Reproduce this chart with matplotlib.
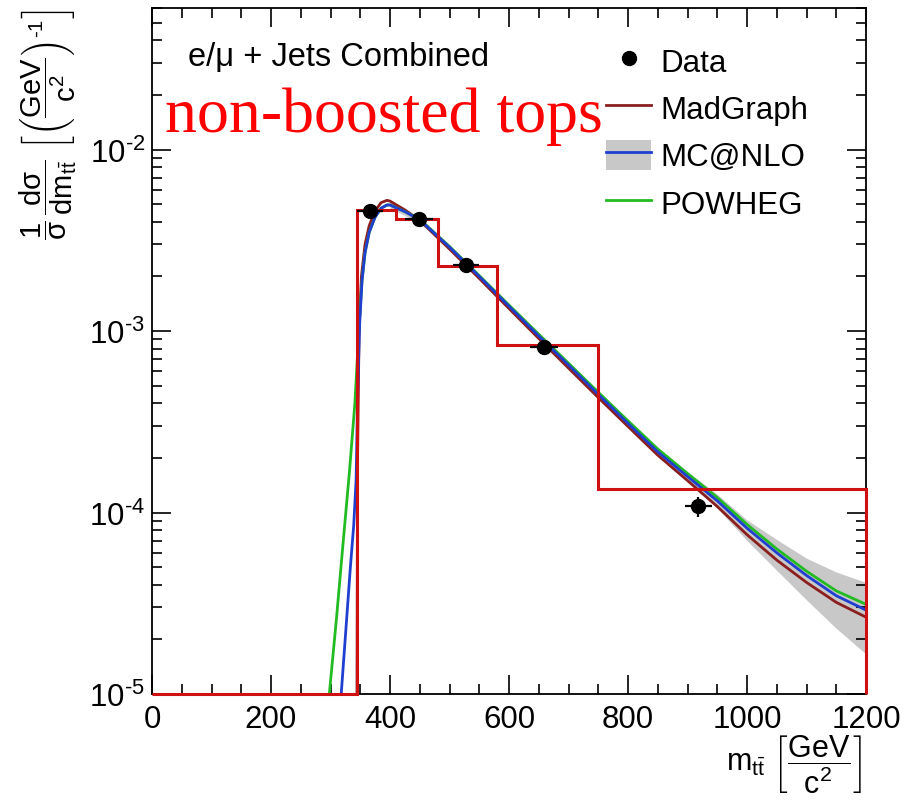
import math
import matplotlib
matplotlib.use("Agg")
import matplotlib.pyplot as plt
from matplotlib.ticker import MultipleLocator, LogLocator, NullFormatter, FuncFormatter
from matplotlib.lines import Line2D
from matplotlib.patches import Patch

plt.rcParams.update({
    "font.family": ["Liberation Sans", "DejaVu Sans"],
    "mathtext.fontset": "custom",
    "mathtext.rm": "Liberation Sans",
    "mathtext.it": "Liberation Sans:italic",
    "mathtext.bf": "Liberation Sans:bold",
    "mathtext.sf": "Liberation Sans",
    "mathtext.default": "regular",
    "axes.unicode_minus": False,
})

# ---- measured normalised cross section (histogram, GeV bins) ----
bin_edges = [0, 345, 410, 480, 580, 750, 1200]
bin_values = [1e-5, 4.62e-3, 4.12e-3, 2.28e-3, 8.37e-4, 1.34e-4]

# ---- data points ----
data_mass = [366, 449, 528, 659, 918]
data_xs = [4.60e-3, 4.12e-3, 2.31e-3, 8.17e-4, 1.08e-4]
data_mass_err = [22, 23, 22, 23, 23]
data_xs_err = [1.4e-4, 1.2e-4, 7.0e-5, 2.5e-5, 1.3e-5]

# ---- MadGraph prediction ----
mg_mass = [344.5, 345.5, 348, 352, 358, 365, 375, 385, 395, 400, 425, 450, 500,
           550, 600, 650, 700, 750, 800, 850, 900, 950, 1000, 1050, 1100, 1150, 1200]
mg_xs = [1e-5, 2e-4, 1.0e-3, 2.0e-3, 3.0e-3, 3.8e-3, 4.6e-3, 5.1e-3, 5.25e-3, 5.2e-3,
         4.65e-3, 4.07e-3, 2.83e-3, 1.95e-3, 1.33e-3, 9.1e-4, 6.25e-4, 4.3e-4,
         2.98e-4, 2.07e-4, 1.50e-4, 1.08e-4, 7.55e-5, 5.47e-5, 4.12e-5, 3.2e-5, 2.65e-5]

# ---- MC@NLO prediction and its uncertainty band ----
mcnlo_mass = [318, 326, 333, 339, 343, 346, 349, 353, 358, 365, 375, 385, 395, 400,
              425, 450, 500, 550, 600, 650, 700, 750, 800, 850, 900, 950, 1000,
              1050, 1100, 1150, 1200]
mcnlo_xs = [1e-5, 2.3e-5, 4.8e-5, 8.5e-5, 1.5e-4, 5e-4, 1.1e-3, 1.9e-3, 2.7e-3,
            3.5e-3, 4.25e-3, 4.75e-3, 4.95e-3, 4.95e-3, 4.55e-3, 4.1e-3, 2.9e-3,
            2.0e-3, 1.37e-3, 9.4e-4, 6.5e-4, 4.48e-4, 3.1e-4, 2.16e-4, 1.58e-4,
            1.16e-4, 8.2e-5, 6.0e-5, 4.5e-5, 3.48e-5, 2.9e-5]
band_mass = [400, 450, 500, 550, 600, 650, 700, 750, 800, 850, 900, 950, 1000,
             1050, 1100, 1150, 1200]
band_lo = [4.75e-3, 3.95e-3, 2.8e-3, 1.93e-3, 1.32e-3, 9.05e-4, 6.25e-4, 4.3e-4,
           2.97e-4, 2.05e-4, 1.48e-4, 1.06e-4, 7.0e-5, 4.8e-5, 3.3e-5, 2.3e-5, 1.66e-5]
band_hi = [5.15e-3, 4.25e-3, 3.0e-3, 2.07e-3, 1.42e-3, 9.75e-4, 6.75e-4, 4.66e-4,
           3.24e-4, 2.27e-4, 1.68e-4, 1.26e-4, 9.1e-5, 7.1e-5, 5.6e-5, 4.7e-5, 4.12e-5]

# ---- POWHEG prediction ----
pw_mass = [298, 310, 321, 332, 341, 345, 349, 353, 358, 365, 375, 385, 395, 400,
           425, 450, 500, 550, 600, 650, 700, 750, 800, 850, 900, 950, 1000,
           1050, 1100, 1150, 1200]
pw_xs = [1e-5, 2.6e-5, 6.7e-5, 1.7e-4, 4.0e-4, 7e-4, 1.2e-3, 1.9e-3, 2.7e-3,
         3.5e-3, 4.25e-3, 4.75e-3, 4.95e-3, 4.95e-3, 4.55e-3, 4.12e-3, 2.92e-3,
         2.02e-3, 1.39e-3, 9.6e-4, 6.65e-4, 4.6e-4, 3.2e-4, 2.24e-4, 1.64e-4,
         1.21e-4, 8.6e-5, 6.3e-5, 4.75e-5, 3.7e-5, 3.12e-5]

C_HIST = "#d01010"
C_MG = "#8b1e1e"
C_MCNLO = "#1f3fd0"
C_PW = "#22bb22"
C_BAND = "#c8c8c8"

fig = plt.figure(figsize=(9.06, 8.03), dpi=100)
ax = fig.add_axes([152 / 906, 1 - 695 / 803, 714 / 906, 686 / 803])
ax.set_yscale("log")
ax.set_xlim(0, 1200)
ax.set_ylim(1e-5, 10 ** -1.22)

ax.fill_between(band_mass, band_lo, band_hi, color=C_BAND, lw=0, zorder=1)
ax.plot(mg_mass, mg_xs, color=C_MG, lw=2.0, zorder=2)
ax.plot(mcnlo_mass, mcnlo_xs, color=C_MCNLO, lw=2.0, zorder=3)
ax.plot(pw_mass, pw_xs, color=C_PW, lw=2.0, zorder=2.5)
ax.stairs(bin_values, bin_edges, baseline=1e-5, color=C_HIST, lw=2.2,
          zorder=4, clip_on=False)
ax.errorbar(data_mass, data_xs, xerr=data_mass_err, yerr=data_xs_err, fmt="o",
            color="black", ms=10, elinewidth=1.6, capsize=0, zorder=5)


def decade_label(v, pos):
    e = int(round(math.log10(v)))
    if e < 0:
        return r"$10^{\text{-}%d}$" % (-e)
    return r"$10^{%d}$" % e


# ticks: ROOT-like, inward on all four sides
ax.xaxis.set_major_locator(MultipleLocator(200))
ax.xaxis.set_minor_locator(MultipleLocator(50))
ax.yaxis.set_major_locator(LogLocator(base=10))
ax.yaxis.set_major_formatter(FuncFormatter(decade_label))
ax.yaxis.set_minor_locator(LogLocator(base=10, subs=range(2, 10)))
ax.yaxis.set_minor_formatter(NullFormatter())
ax.tick_params(which="both", direction="in", top=True, right=True, width=1.2,
               labelsize=22.5)
ax.tick_params(which="major", length=14)
ax.tick_params(which="minor", length=7)
ax.tick_params(axis="x", pad=7)
ax.tick_params(axis="y", pad=5)
for s in ax.spines.values():
    s.set_linewidth(1.3)

# axis titles
fig.text(862 / 906, 1 - 765 / 803,
         r"$m_{t\bar{t}}\ \left[\dfrac{GeV}{c^{2}}\right]$",
         ha="right", va="center", fontsize=22)
fig.text(48 / 906, 1 - 10 / 803,
         r"$\dfrac{1}{\sigma}\,\dfrac{d\sigma}{dm_{t\bar{t}}}\ \left[\left(\dfrac{GeV}{c^{2}}\right)^{\text{-}1}\right]$",
         ha="center", va="top", rotation=90, fontsize=21)

fig.text(188 / 906, 1 - 57 / 803, "e/μ + Jets Combined", ha="left",
         va="center", fontsize=23.5)
fig.text(165 / 906, 1 - 132 / 803, "non-boosted tops", ha="left",
         va="baseline", fontsize=46, color="#ff0000",
         family=["Liberation Serif", "DejaVu Serif"])

handles = [
    Line2D([], [], marker="o", ls="none", color="black", ms=10),
    Line2D([], [], color=C_MG, lw=2.0),
    (Patch(facecolor=C_BAND, edgecolor="none"), Line2D([], [], color=C_MCNLO, lw=2.0)),
    Line2D([], [], color=C_PW, lw=2.0),
]
labels = ["Data", "MadGraph", "MC@NLO", "POWHEG"]
fig.legend(handles, labels, loc="upper left",
           bbox_to_anchor=(606 / 906, 1 - 46 / 803), frameon=False,
           fontsize=22.5, handlelength=1.45, handleheight=1.1,
           handletextpad=0.3, labelspacing=0.47, borderpad=0, borderaxespad=0)

fig.savefig("out.png", dpi=100, facecolor="white")
